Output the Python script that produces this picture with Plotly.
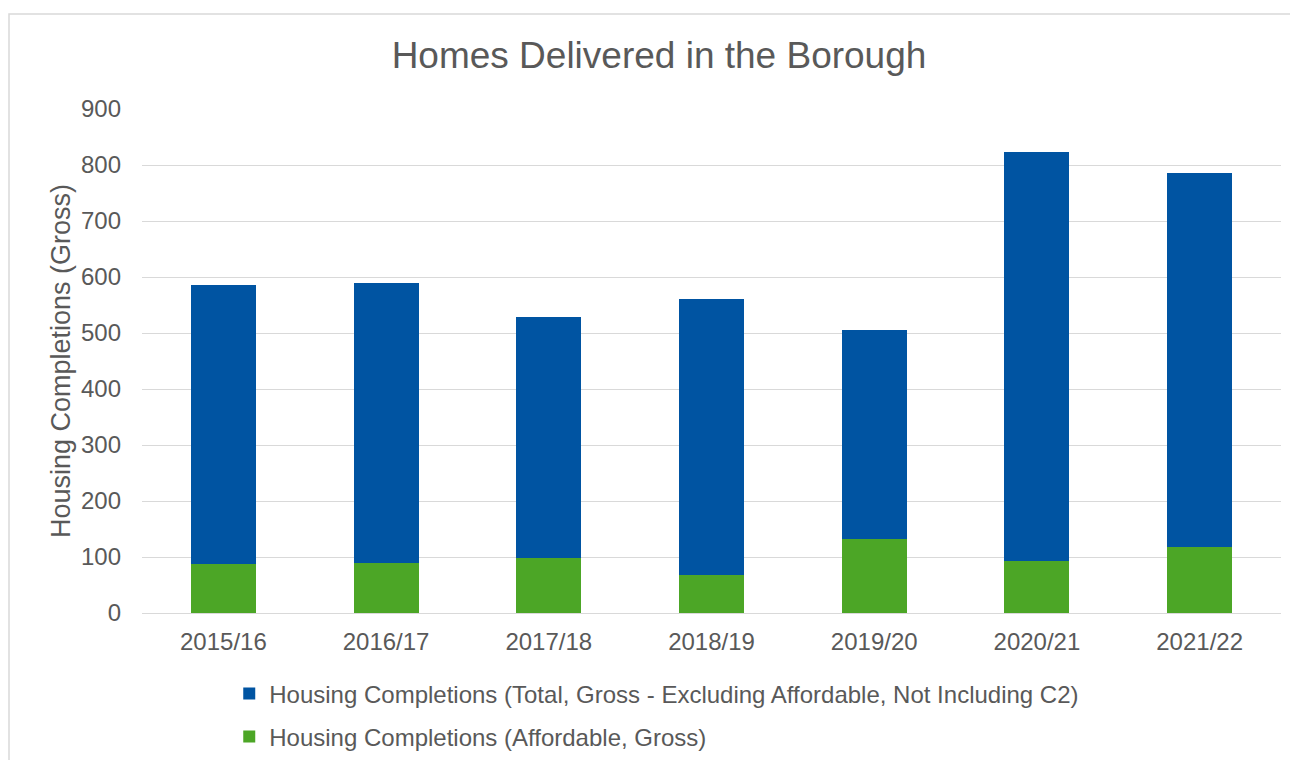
import plotly.graph_objects as go

# Financial years
years = ['2015/16', '2016/17', '2017/18', '2018/19', '2019/20', '2020/21', '2021/22']

# Affordable completions (bottom segment)
affordable = [88, 89, 99, 68, 132, 93, 118]

# Total completions excluding affordable (top segment)
market = [498, 500, 430, 493, 373, 731, 668]

y_ticks = [0, 100, 200, 300, 400, 500, 600, 700, 800, 900]

BLUE = '#0054A2'
GREEN = '#4CA626'
TEXT = '#595959'
GRID = '#D9D9D9'
FONT = 'Liberation Sans, Arial, sans-serif'

# page body has an 8px margin, so the figure is a touch smaller than the window
W, H = 1290, 752
ML, MR, MT, MB = 134, 17, 101, 147
PW, PH = W - ML - MR, H - MT - MB

fig = go.Figure()

fig.add_trace(go.Bar(
    x=years, y=affordable,
    name='Housing Completions (Affordable, Gross)',
    marker=dict(color=GREEN, line=dict(width=0)),
    legendgroup='b', legendrank=2,
))
fig.add_trace(go.Bar(
    x=years, y=market,
    name='Housing Completions (Total, Gross - Excluding Affordable, Not Including C2)',
    marker=dict(color=BLUE, line=dict(width=0)),
    legendgroup='a', legendrank=1,
))

fig.update_layout(
    barmode='stack',
    bargap=0.6,
    width=W, height=H,
    margin=dict(l=ML, r=MR, t=MT, b=MB, autoexpand=False),
    paper_bgcolor='white',
    plot_bgcolor='white',
    font=dict(family=FONT, color=TEXT, size=24),
    title=dict(
        text='Homes Delivered in the Borough',
        x=651 / W, xanchor='center',
        y=1 - 47 / H, yanchor='middle',
        font=dict(size=37, color=TEXT, family=FONT),
    ),
    xaxis=dict(
        showgrid=False, showline=False, ticks='',
        tickfont=dict(size=24, color=TEXT),
        ticklabelstandoff=12,
        automargin=False,
    ),
    yaxis=dict(
        range=[0, 900],
        tickvals=y_ticks,
        showgrid=True, gridcolor=GRID, gridwidth=1,
        zeroline=True, zerolinecolor=GRID, zerolinewidth=1,
        showline=False, ticks='',
        tickfont=dict(size=24, color=TEXT),
        ticklabelstandoff=20,
        automargin=False,
        title=dict(text='Housing Completions (Gross)', font=dict(size=27, color=TEXT), standoff=2),
    ),
    legend=dict(
        orientation='v',
        x=0.0766, xanchor='left',
        y=-0.1157, yanchor='top',
        traceorder='grouped',
        tracegroupgap=9,
        font=dict(size=24, color=TEXT),
        itemwidth=30,
    ),
    showlegend=True,
    shapes=[dict(
        type='rect', xref='paper', yref='paper',
        x0=(1 - ML) / PW, x1=(W + 10 - ML) / PW,
        y0=-0.5, y1=(PH + MT - 6) / PH,
        line=dict(color=GRID, width=1.5),
        fillcolor='rgba(0,0,0,0)',
        layer='below',
    )],
)

fig.write_html('out.html')
